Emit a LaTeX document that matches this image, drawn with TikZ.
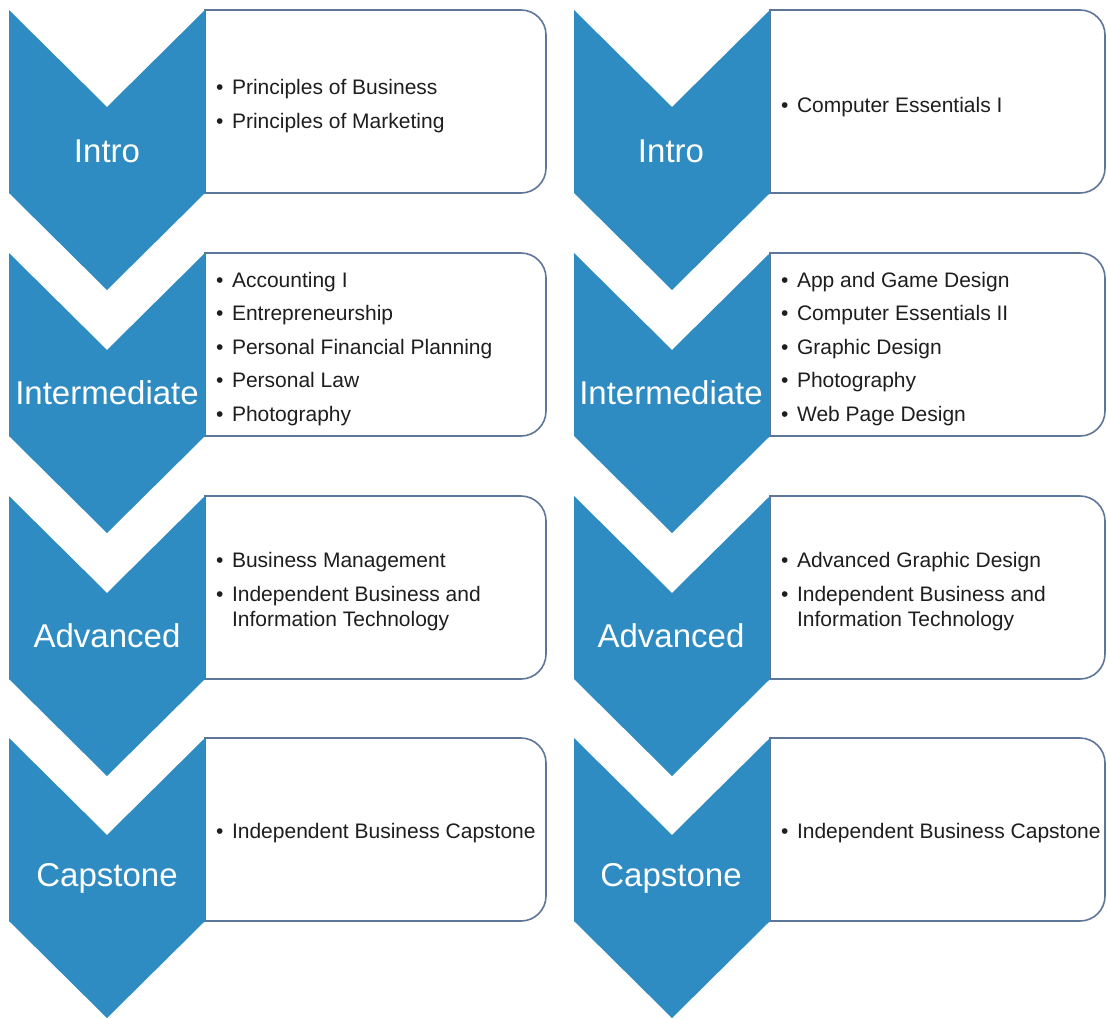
\documentclass[tikz,border=0pt]{standalone}
\usepackage{fontspec}
\setmainfont{Liberation Sans}
\definecolor{chev}{RGB}{46,140,194}
\definecolor{boxline}{RGB}{95,118,155}
\definecolor{txt}{RGB}{30,30,30}
\tikzset{
  chevfill/.style={fill=chev, draw=none},
  boxshape/.style={draw=boxline, line width=1.6pt, fill=white},
  lbl/.style={text=white, font=\fontsize{33}{36}\selectfont, inner sep=0pt},
  lst/.style={text=txt, font=\fontsize{21}{25.5}\selectfont, anchor=west, inner sep=0pt, align=left},
}
% #1 = left x of chevron, #2 = top y, #3 = right x of box
\newcommand\stagebox[3]{%
  \draw[boxshape] (#1+196,#2) [rounded corners=25pt] -- (#3,#2) -- (#3,#2+183) [sharp corners] -- (#1+196,#2+183) -- cycle;
  \fill[chevfill] (#1,#2) -- ++(98,97) -- ++(98,-97) -- ++(0,183) -- ++(-98,97) -- ++(-98,-97) -- cycle;
}
\newcommand\blist[1]{\begin{tabular}{@{}l@{\hspace{8.5pt}}l@{}}#1\end{tabular}}
\begin{document}
\begin{tikzpicture}[x=1pt,y=-1pt]
\useasboundingbox (0,0) rectangle (1107,1018);
\fill[white] (0,0) rectangle (1107,1018);
% left column
\stagebox{9}{10}{546}
\stagebox{9}{253}{546}
\stagebox{9}{496}{546}
\stagebox{9}{738}{546}
% right column
\stagebox{574}{10}{1105}
\stagebox{574}{253}{1105}
\stagebox{574}{496}{1105}
\stagebox{574}{738}{1105}
% chevron labels
\node[lbl] (lIntro) at (107,151) {Intro};
\node[lbl] (lInter) at (107,393) {Intermediate};
\node[lbl] (lAdv) at (107,636) {Advanced};
\node[lbl] (lCap) at (107,878) {Capstone};
\node[lbl] (rIntro) at (671,151) {Intro};
\node[lbl] (rInter) at (671,393) {Intermediate};
\node[lbl] (rAdv) at (671,636) {Advanced};
\node[lbl] (rCap) at (671,878) {Capstone};
% left lists
\node[lst] (tlIntro) at (216,106.5) {\blist{•&Principles of Business\\[8pt] •&Principles of Marketing}};
\node[lst] (tlInter) at (216,349) {\blist{•&Accounting I\\[8pt] •&Entrepreneurship\\[8pt] •&Personal Financial Planning\\[8pt] •&Personal Law\\[8pt] •&Photography}};
\node[lst] (tlAdv) at (216,592) {\blist{•&Business Management\\[8pt] •&Independent Business and\\ &Information Technology}};
\node[lst] (tlCap) at (216,833.5) {\blist{•&Independent Business Capstone}};
% right lists
\node[lst] (trIntro) at (781,107.5) {\blist{•&Computer Essentials I}};
\node[lst] (trInter) at (781,349) {\blist{•&App and Game Design\\[8pt] •&Computer Essentials II\\[8pt] •&Graphic Design\\[8pt] •&Photography\\[8pt] •&Web Page Design}};
\node[lst] (trAdv) at (781,592) {\blist{•&Advanced Graphic Design\\[8pt] •&Independent Business and\\ &Information Technology}};
\node[lst] (trCap) at (781,833.5) {\blist{•&Independent Business Capstone}};
\end{tikzpicture}
\end{document}
